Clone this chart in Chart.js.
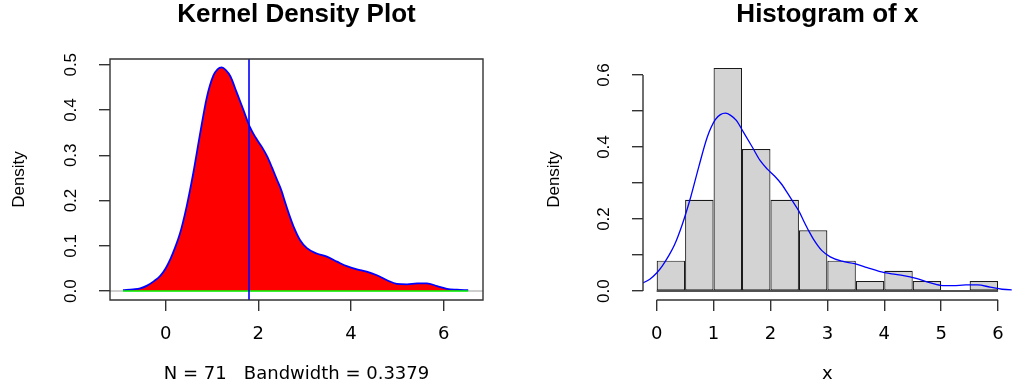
<!DOCTYPE html>
<html>
<head>
<meta charset="utf-8">
<script src="https://cdn.jsdelivr.net/npm/chart.js@4/dist/chart.umd.min.js"></script>
<style>
  html, body { margin: 0; padding: 0; background: #ffffff; }
  #wrap { position: relative; width: 1017px; height: 386px; overflow: hidden; }
  canvas { position: absolute; top: 0; }
  #kde { left: 0; }
  #hist { left: 508px; }
</style>
</head>
<body>
<div id="wrap">
  <canvas id="kde" width="508" height="386"></canvas>
  <canvas id="hist" width="509" height="386"></canvas>
</div>
<script>
// Sample summary
const sampleSize = 71;
const bandwidth = '0.3379';
const sampleMean = [1.8];

// Kernel density estimate of x
const densX = [-0.92, -0.70, -0.55, -0.40, -0.25, -0.12, 0.00, 0.10, 0.20, 0.31,
               0.45, 0.60, 0.74, 0.89, 1.03, 1.12, 1.21, 1.30, 1.40, 1.53,
               1.68, 1.82, 1.95, 2.08, 2.20, 2.30, 2.40, 2.50, 2.58, 2.68,
               2.76, 2.90, 3.05, 3.26, 3.48, 3.70, 3.91, 4.13, 4.34, 4.56,
               4.78, 4.99, 5.21, 5.43, 5.64, 5.86, 6.07, 6.29, 6.53];
const densY = [0.002, 0.004, 0.006, 0.012, 0.022, 0.033, 0.050, 0.070, 0.095, 0.127,
               0.185, 0.262, 0.345, 0.428, 0.476, 0.490, 0.494, 0.488, 0.474, 0.440,
               0.400, 0.362, 0.338, 0.318, 0.296, 0.272, 0.247, 0.222, 0.196, 0.165,
               0.143, 0.113, 0.095, 0.083, 0.076, 0.065, 0.055, 0.048, 0.043, 0.035,
               0.024, 0.016, 0.015, 0.017, 0.017, 0.011, 0.005, 0.003, 0.002];

// Histogram of x
const binEdges = [0, 0.5, 1, 1.5, 2, 2.5, 3, 3.5, 4, 4.5, 5, 5.5, 6];
const binCounts = [3, 9, 22, 14, 9, 6, 3, 1, 2, 1, 0, 1];

// Axis ticks and labels
const kdeXTicks = [0, 2, 4, 6];
const kdeXLabels = ['0', '2', '4', '6'];
const kdeYTicks = [0, 0.1, 0.2, 0.3, 0.4, 0.5];
const kdeYLabels = ['0.0', '0.1', '0.2', '0.3', '0.4', '0.5'];
const histXTicks = [0, 1, 2, 3, 4, 5, 6];
const histXLabels = ['0', '1', '2', '3', '4', '5', '6'];
const histYTicks = [0, 0.1, 0.2, 0.3, 0.4, 0.5, 0.6];
const histYLabels = ['0.0', '', '0.2', '', '0.4', '', '0.6'];

const AXIS_COLOR = '#333333';
const xTickFont = { family: 'DejaVu Sans', size: 18 };
const yTickFont = { family: 'Liberation Sans', size: 17 };
const titleFont = { family: 'Liberation Sans', size: 26, weight: 'bold', lineHeight: 1 };

// Base-graphics style frame: zero line, vertical marker, box or axis lines
const rFrame = {
  id: 'rFrame',
  beforeDatasetsDraw(chart, args, opts) {
    if (!opts.zeroLine) return;
    const { ctx, chartArea: a, scales: { y } } = chart;
    const py = y.getPixelForValue(0);
    ctx.save();
    ctx.strokeStyle = '#bebebe';
    ctx.lineWidth = 1.5;
    ctx.beginPath();
    ctx.moveTo(a.left, py);
    ctx.lineTo(a.right, py);
    ctx.stroke();
    ctx.restore();
  },
  afterDatasetsDraw(chart, args, opts) {
    const { ctx, chartArea: a, scales: { x } } = chart;
    (opts.vlines || []).forEach(v => {
      const px = x.getPixelForValue(v);
      ctx.save();
      ctx.strokeStyle = '#0000ff';
      ctx.lineWidth = 1.6;
      ctx.beginPath();
      ctx.moveTo(px, a.top);
      ctx.lineTo(px, a.bottom);
      ctx.stroke();
      ctx.restore();
    });
  },
  afterDraw(chart, args, opts) {
    const { ctx, chartArea: a, scales: { x, y } } = chart;
    ctx.save();
    ctx.strokeStyle = AXIS_COLOR;
    ctx.lineWidth = 1.4;
    ctx.beginPath();
    if (opts.box) {
      ctx.rect(a.left, a.top, a.right - a.left, a.bottom - a.top);
    } else {
      const xt = x.ticks, yt = y.ticks;
      ctx.moveTo(x.getPixelForValue(xt[0].value), a.bottom);
      ctx.lineTo(x.getPixelForValue(xt[xt.length - 1].value), a.bottom);
      ctx.moveTo(a.left, y.getPixelForValue(yt[0].value));
      ctx.lineTo(a.left, y.getPixelForValue(yt[yt.length - 1].value));
    }
    ctx.stroke();
    ctx.restore();
  }
};

function xScale(min, max, ticks, labels, titleText) {
  return {
    type: 'linear', min, max, bounds: 'data', offset: false,
    afterBuildTicks: s => { s.ticks = ticks.map(v => ({ value: v })); },
    afterFit: s => { s.height = 86; },
    border: { display: false },
    grid: { offset: false, drawOnChartArea: false, drawTicks: true, tickLength: 11, color: AXIS_COLOR, lineWidth: 1.4 },
    ticks: { autoSkip: false, minRotation: 0, maxRotation: 0, padding: 13, font: xTickFont, color: '#000',
             callback: (v, i) => labels[i] },
    title: { display: true, text: titleText, font: { family: 'DejaVu Sans', size: 18 }, color: '#000',
             padding: { top: 0, bottom: 1 } }
  };
}

function yScale(min, max, ticks, labels, width) {
  return {
    type: 'linear', min, max, bounds: 'data',
    afterBuildTicks: s => { s.ticks = ticks.map(v => ({ value: v })); },
    afterFit: s => { s.width = width; },
    border: { display: false },
    grid: { drawOnChartArea: false, drawTicks: true, tickLength: 11, color: AXIS_COLOR, lineWidth: 1.4 },
    ticks: { autoSkip: false, minRotation: 90, maxRotation: 90, crossAlign: 'center', padding: 16,
             font: yTickFont, color: '#000', callback: (v, i) => labels[i] },
    title: { display: true, text: 'Density', font: { family: 'Liberation Sans', size: 17 }, color: '#000',
             padding: { top: 4, bottom: 0 } }
  };
}

function titleOpts(text) {
  return { display: true, text, fullSize: false, font: titleFont, color: '#000', padding: { top: 2, bottom: 31 } };
}

const densPoints = densX.map((x, i) => ({ x, y: densY[i] }));

// Left: filled kernel density
new Chart(document.getElementById('kde'), {
  type: 'line',
  data: {
    datasets: [
      { data: densPoints, fill: 'origin', backgroundColor: '#ff0000', borderColor: '#0000ff',
        borderWidth: 1.8, pointRadius: 0, cubicInterpolationMode: 'monotone', order: 1 },
      { data: [{ x: densX[0], y: 0 }, { x: densX[densX.length - 1], y: 0 }], fill: false,
        borderColor: '#00ff00', borderWidth: 1.5, pointRadius: 0, order: 0 }
    ]
  },
  options: {
    responsive: false, animation: false, devicePixelRatio: 1,
    layout: { autoPadding: false, padding: { left: 5, right: 25, top: 0, bottom: 0 } },
    plugins: {
      legend: { display: false }, tooltip: { enabled: false },
      title: titleOpts('Kernel Density Plot'),
      rFrame: { box: true, zeroLine: true, vlines: sampleMean }
    },
    scales: {
      x: xScale(-1.2, 6.85, kdeXTicks, kdeXLabels, `N = ${sampleSize}   Bandwidth = ${bandwidth}`),
      y: yScale(-0.0197, 0.5127, kdeYTicks, kdeYLabels, 105)
    }
  },
  plugins: [rFrame]
});

// Right: histogram on the density scale with the density curve on top
const binWidth = binEdges[1] - binEdges[0];
const histBars = binCounts.map((c, i) => ({
  x: (binEdges[i] + binEdges[i + 1]) / 2,
  y: c / (sampleSize * binWidth)
}));

new Chart(document.getElementById('hist'), {
  type: 'bar',
  data: {
    datasets: [
      { type: 'bar', data: histBars, backgroundColor: '#d3d3d3', borderColor: '#1a1a1a', borderWidth: 1.2,
        borderSkipped: false, barPercentage: 1, categoryPercentage: 1, inflateAmount: 0, order: 2 },
      { type: 'line', data: [{ x: binEdges[0], y: 0 }, { x: binEdges[binEdges.length - 1], y: 0 }],
        borderColor: '#1a1a1a', borderWidth: 1.4, pointRadius: 0, fill: false, order: 1 },
      { type: 'line', data: densPoints, borderColor: '#0000ff', borderWidth: 1.3, pointRadius: 0,
        fill: false, cubicInterpolationMode: 'monotone', order: 0 }
    ]
  },
  options: {
    responsive: false, animation: false, devicePixelRatio: 1,
    layout: { autoPadding: false, padding: { left: 32, right: 0, top: 0, bottom: 0 } },
    plugins: {
      legend: { display: false }, tooltip: { enabled: false },
      title: titleOpts('Histogram of x'),
      rFrame: { box: false }
    },
    scales: {
      x: xScale(-0.24, 6.24, histXTicks, histXLabels, 'x'),
      y: yScale(-0.0248, 0.6445, histYTicks, histYLabels, 103)
    }
  },
  plugins: [rFrame]
});
</script>
</body>
</html>
